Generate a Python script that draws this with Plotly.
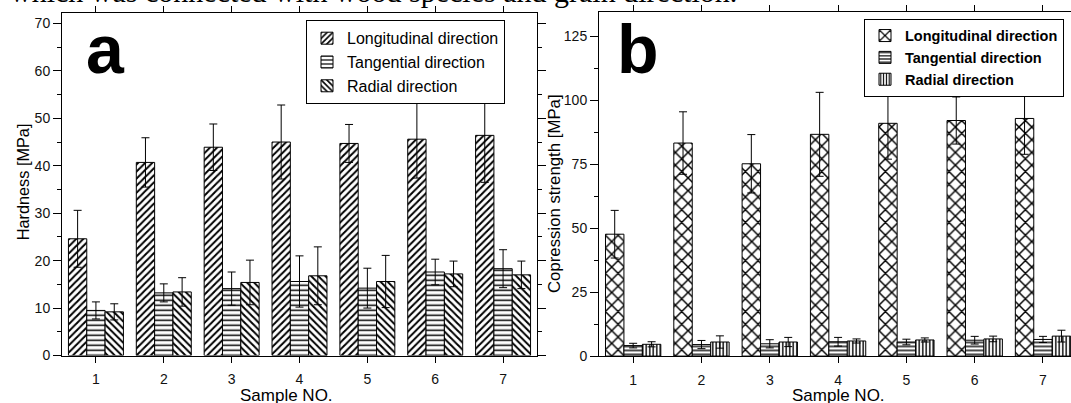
import plotly.graph_objects as go

W, H = 1071, 403

samples = [1, 2, 3, 4, 5, 6, 7]
sample_labels = ["1", "2", "3", "4", "5", "6", "7"]
series_names = ["Longitudinal direction", "Tangential direction", "Radial direction"]

# Panel a: Hardness [MPa]
hard_long = [24.6, 40.7, 43.9, 45.0, 44.7, 45.6, 46.4]
hard_long_err = [6.0, 5.2, 4.9, 7.8, 4.0, 8.2, 9.9]
hard_tang = [9.5, 13.2, 14.1, 15.6, 14.2, 17.6, 18.3]
hard_tang_err = [1.8, 1.9, 3.5, 5.4, 4.2, 2.7, 4.0]
hard_rad = [9.2, 13.4, 15.4, 16.8, 15.6, 17.2, 17.0]
hard_rad_err = [1.7, 3.0, 4.7, 6.1, 5.5, 2.7, 2.9]

# Panel b: Compression strength [MPa]
comp_long = [47.6, 83.2, 75.1, 86.6, 90.9, 92.0, 92.8]
comp_long_err = [9.3, 12.2, 11.4, 16.4, 14.0, 9.2, 14.0]
comp_tang = [4.1, 4.5, 4.8, 5.6, 5.5, 6.2, 6.5]
comp_tang_err = [0.9, 1.6, 1.6, 1.7, 1.1, 1.5, 1.2]
comp_rad = [4.6, 5.5, 5.5, 5.9, 6.3, 6.7, 7.8]
comp_rad_err = [1.0, 2.4, 1.8, 0.8, 0.8, 1.1, 2.3]

FONT = "Arial, Liberation Sans, sans-serif"


def px_x(p):
    return p / W


def px_y(p):
    return 1 - p / H


def bar(x, y, err, name, shape, size, solidity, xa, ya, legend):
    return go.Bar(
        x=x, y=y, name=name, xaxis=xa, yaxis=ya, legend=legend,
        marker=dict(color="white", line=dict(color="black", width=1),
                    pattern=dict(shape=shape, fgcolor="black", bgcolor="white",
                                 size=size, solidity=solidity, fgopacity=1)),
        error_y=dict(type="data", array=err, visible=True, color="black",
                     thickness=1, width=4),
    )


fig = go.Figure()
fig.add_trace(bar(samples, hard_long, hard_long_err, series_names[0], "/", 5, 0.4, "x", "y", "legend"))
fig.add_trace(bar(samples, hard_tang, hard_tang_err, series_names[1], "-", 5, 0.3, "x", "y", "legend"))
fig.add_trace(bar(samples, hard_rad, hard_rad_err, series_names[2], "\\", 5, 0.4, "x", "y", "legend"))
fig.add_trace(bar(samples, comp_long, comp_long_err, series_names[0], "x", 9, 0.3, "x2", "y2", "legend2"))
fig.add_trace(bar(samples, comp_tang, comp_tang_err, series_names[1], "-", 4, 0.35, "x2", "y2", "legend2"))
fig.add_trace(bar(samples, comp_rad, comp_rad_err, series_names[2], "|", 3.5, 0.4, "x2", "y2", "legend2"))

axis_common = dict(showline=True, linecolor="black", linewidth=1, showgrid=False,
                   zeroline=False, ticks="outside", tickcolor="black", tickwidth=1,
                   tickfont=dict(family=FONT, size=14, color="#111"))

fig.update_layout(
    width=W, height=H,
    margin=dict(l=0, r=0, t=0, b=0),
    paper_bgcolor="white", plot_bgcolor="white",
    barmode="group", bargap=0.19, bargroupgap=0,
    font=dict(family=FONT, color="black"),
    xaxis=dict(domain=[px_x(62), px_x(537)], range=[0.5, 7.5], tickvals=samples,
               ticktext=sample_labels, ticklen=6, mirror="ticks", anchor="y",
               ticklabelstandoff=5, **axis_common),
    yaxis=dict(domain=[px_y(362.7), px_y(13)], range=[0, 72.25], dtick=10, ticklen=8,
               mirror="ticks", anchor="x",
               minor=dict(ticks="outside", ticklen=4, dtick=5, tickcolor="black"),
               **axis_common),
    xaxis2=dict(domain=[px_x(599), 1.0], range=[0.5, 7.41], tickvals=samples,
                ticktext=sample_labels, ticklen=6, mirror="ticks", anchor="y2",
                ticklabelstandoff=5, **axis_common),
    yaxis2=dict(domain=[px_y(363.3), px_y(12.7)], range=[0, 134.2], dtick=25, ticklen=8,
                mirror=False, anchor="x2",
                minor=dict(ticks="outside", ticklen=4, dtick=12.5, tickcolor="black"),
                **axis_common),
    legend=dict(x=px_x(306), y=px_y(20.7), xanchor="left", yanchor="top",
                bgcolor="white", bordercolor="black", borderwidth=1,
                font=dict(family=FONT, size=16, color="black"), tracegroupgap=0,
                itemclick=False),
    legend2=dict(x=px_x(864), y=px_y(19), xanchor="left", yanchor="top",
                 bgcolor="white", bordercolor="black", borderwidth=1,
                 font=dict(family=FONT, size=14.5, color="black", weight="bold"),
                 tracegroupgap=0, itemclick=False),
    showlegend=True,
)

annotations = [
    dict(text="which was connected with wood species and grain direction.",
         x=px_x(8), y=px_y(-9), xanchor="left", yanchor="middle",
         font=dict(family="Liberation Serif, Times New Roman, serif", size=30, color="black")),
    dict(text="<b>a</b>", x=px_x(105), y=px_y(50), xanchor="center", yanchor="middle",
         font=dict(family=FONT, size=68, color="black")),
    dict(text="<b>b</b>", x=px_x(638), y=px_y(50), xanchor="center", yanchor="middle",
         font=dict(family=FONT, size=68, color="black")),
    dict(text="Hardness [MPa]", x=px_x(23), y=px_y(186), textangle=-90,
         xanchor="center", yanchor="middle", font=dict(family=FONT, size=16.3, color="black")),
    dict(text="Copression strength [MPa]", x=px_x(554), y=px_y(198), textangle=-90,
         xanchor="center", yanchor="middle", font=dict(family=FONT, size=16.8, color="black")),
    dict(text="Sample NO.", x=px_x(286), y=px_y(403), xanchor="center", yanchor="middle",
         borderpad=0, font=dict(family=FONT, size=17, color="black")),
    dict(text="Sample NO.", x=px_x(838), y=px_y(403), xanchor="center", yanchor="middle",
         borderpad=0, font=dict(family=FONT, size=17, color="black")),
]
for a in annotations:
    a.update(xref="paper", yref="paper", showarrow=False)
fig.update_layout(annotations=annotations)

fig.write_html("out.html")
